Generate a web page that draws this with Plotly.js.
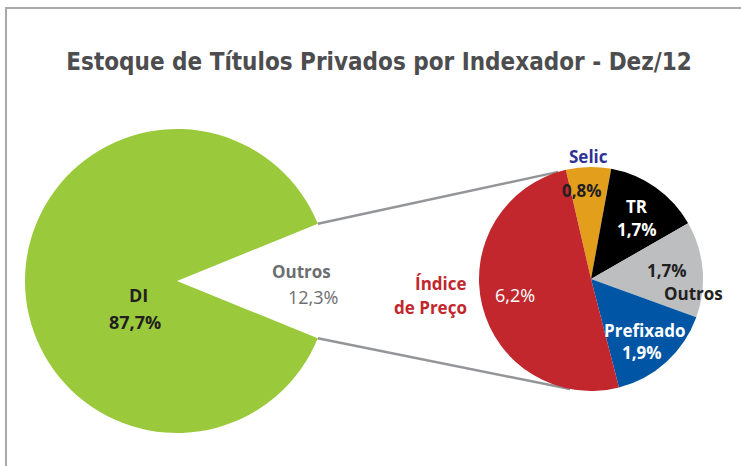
<!DOCTYPE html>
<html>
<head>
<meta charset="utf-8">
<script src="https://cdn.plot.ly/plotly-3.0.1.min.js"></script>
<style>html,body{margin:0;padding:0;background:#fff;}#chart{width:741px;height:466px;}</style>
</head>
<body>
<div id="chart"></div>
<script>
// ---- data ----
const mainLabels = ["Outros", "DI"];
const mainValues = [12.3, 87.7];
const mainText = ["12,3%", "87,7%"];

const subLabels = ["Selic", "TR", "Outros", "Prefixado", "Índice de Preço"];
const subValues = [0.8, 1.7, 1.7, 1.9, 6.2];
const subText = ["0,8%", "1,7%", "1,7%", "1,9%", "6,2%"];

const titleText = "Estoque de Títulos Privados por Indexador - Dez/12";

// ---- geometry (pixels) ----
const W = 741, H = 466;
const big = {cx: 177, cy: 281, r: 152};
const small = {cx: 591, cy: 279, r: 112};
const subRotation = -13;
const px = x => x / W;
const py = y => 1 - y / H;

const mainColors = ["rgba(255,255,255,0)", "#9aca3c"];
const subColors = ["#e39e1b", "#000000", "#bcbec0", "#0055a5", "#c1272d"];

// Outros wedge centred on 3 o'clock
const mainTotal = mainValues.reduce((a, b) => a + b, 0);
const outrosDeg = mainValues[0] / mainTotal * 360;

const traces = [
  {
    type: "pie", labels: mainLabels, values: mainValues, sort: false,
    direction: "clockwise", rotation: 90 - outrosDeg / 2,
    marker: {colors: mainColors, line: {width: 0}},
    textinfo: "none", hoverinfo: "skip", showlegend: false,
    domain: {x: [px(big.cx - big.r), px(big.cx + big.r)], y: [py(big.cy + big.r), py(big.cy - big.r)]}
  },
  {
    type: "pie", labels: subLabels, values: subValues, sort: false,
    direction: "clockwise", rotation: subRotation,
    marker: {colors: subColors, line: {width: 0}},
    textinfo: "none", hoverinfo: "skip", showlegend: false,
    domain: {x: [px(small.cx - small.r), px(small.cx + small.r)], y: [py(small.cy + small.r), py(small.cy - small.r)]}
  }
];

// connector lines
const half = outrosDeg / 2 * Math.PI / 180;
const bigTop = [big.cx + big.r * Math.cos(half), big.cy - big.r * Math.sin(half)];
const bigBot = [big.cx + big.r * Math.cos(half), big.cy + big.r * Math.sin(half)];
const a1 = -17 * Math.PI / 180;
const a2 = 190.7 * Math.PI / 180;
const smTop = [small.cx + small.r * Math.sin(a1), small.cy - small.r * Math.cos(a1)];
const smBot = [small.cx + small.r * Math.sin(a2), small.cy - small.r * Math.cos(a2)];

const lineStyle = {color: "#939598", width: 2.5};
const shapes = [
  {type: "rect", xref: "paper", yref: "paper", x0: px(6), x1: px(760), y0: py(480), y1: py(8),
   line: {color: "#a7a9ac", width: 2}, fillcolor: "rgba(0,0,0,0)", layer: "below"},
  {type: "line", xref: "paper", yref: "paper", x0: px(bigTop[0]), y0: py(bigTop[1]), x1: px(smTop[0]), y1: py(smTop[1]), line: lineStyle, layer: "below"},
  {type: "line", xref: "paper", yref: "paper", x0: px(bigBot[0]), y0: py(bigBot[1]), x1: px(smBot[0]), y1: py(smBot[1]), line: lineStyle, layer: "below"}
];

const F = "Open Sans, DejaVu Sans, sans-serif";
function ann(text, x, y, color, size, bold, align) {
  return {text: bold ? "<b>" + text + "</b>" : text, x: px(x), y: py(y), xref: "paper", yref: "paper",
          showarrow: false, xanchor: align || "center", yanchor: "middle",
          font: {family: F, size: size, color: color}};
}
const annotations = [
  ann(mainLabels[1], 138, 295, "#231f20", 18, true),
  ann(mainText[1], 135, 322, "#231f20", 18, true),
  ann(mainLabels[0], 301, 271, "#6d6e71", 17, true),
  ann(mainText[0], 313, 297, "#6d6e71", 18, false),
  ann(subLabels[0], 588, 156, "#2e3192", 17, true),
  ann(subText[0], 582, 190, "#231f20", 17, true),
  ann(subLabels[1], 637, 206, "#ffffff", 17, true),
  ann(subText[1], 637, 229, "#ffffff", 17, true),
  ann(subText[2], 667, 270, "#231f20", 17, true),
  ann(subLabels[2], 693, 293, "#231f20", 17, true),
  ann(subLabels[3], 645, 330, "#ffffff", 17, true),
  ann(subText[3], 642, 352, "#ffffff", 17, true),
  ann(subText[4], 515, 295, "#ffffff", 18, false),
  ann("Índice", 469, 283, "#c1272d", 17, true, "right"),
  ann("de Preço", 469, 307, "#c1272d", 17, true, "right")
];

const layout = {
  width: W, height: H,
  margin: {l: 0, r: 0, t: 0, b: 0},
  paper_bgcolor: "#ffffff",
  title: {text: "<b>" + titleText + "</b>", x: px(379), xanchor: "center", y: py(62), yanchor: "middle",
          font: {family: "DejaVu Sans Condensed, sans-serif", size: 24, color: "#4d4d4f"}},
  shapes: shapes,
  annotations: annotations,
  showlegend: false
};

Plotly.newPlot("chart", traces, layout, {staticPlot: true});
</script>
</body>
</html>
